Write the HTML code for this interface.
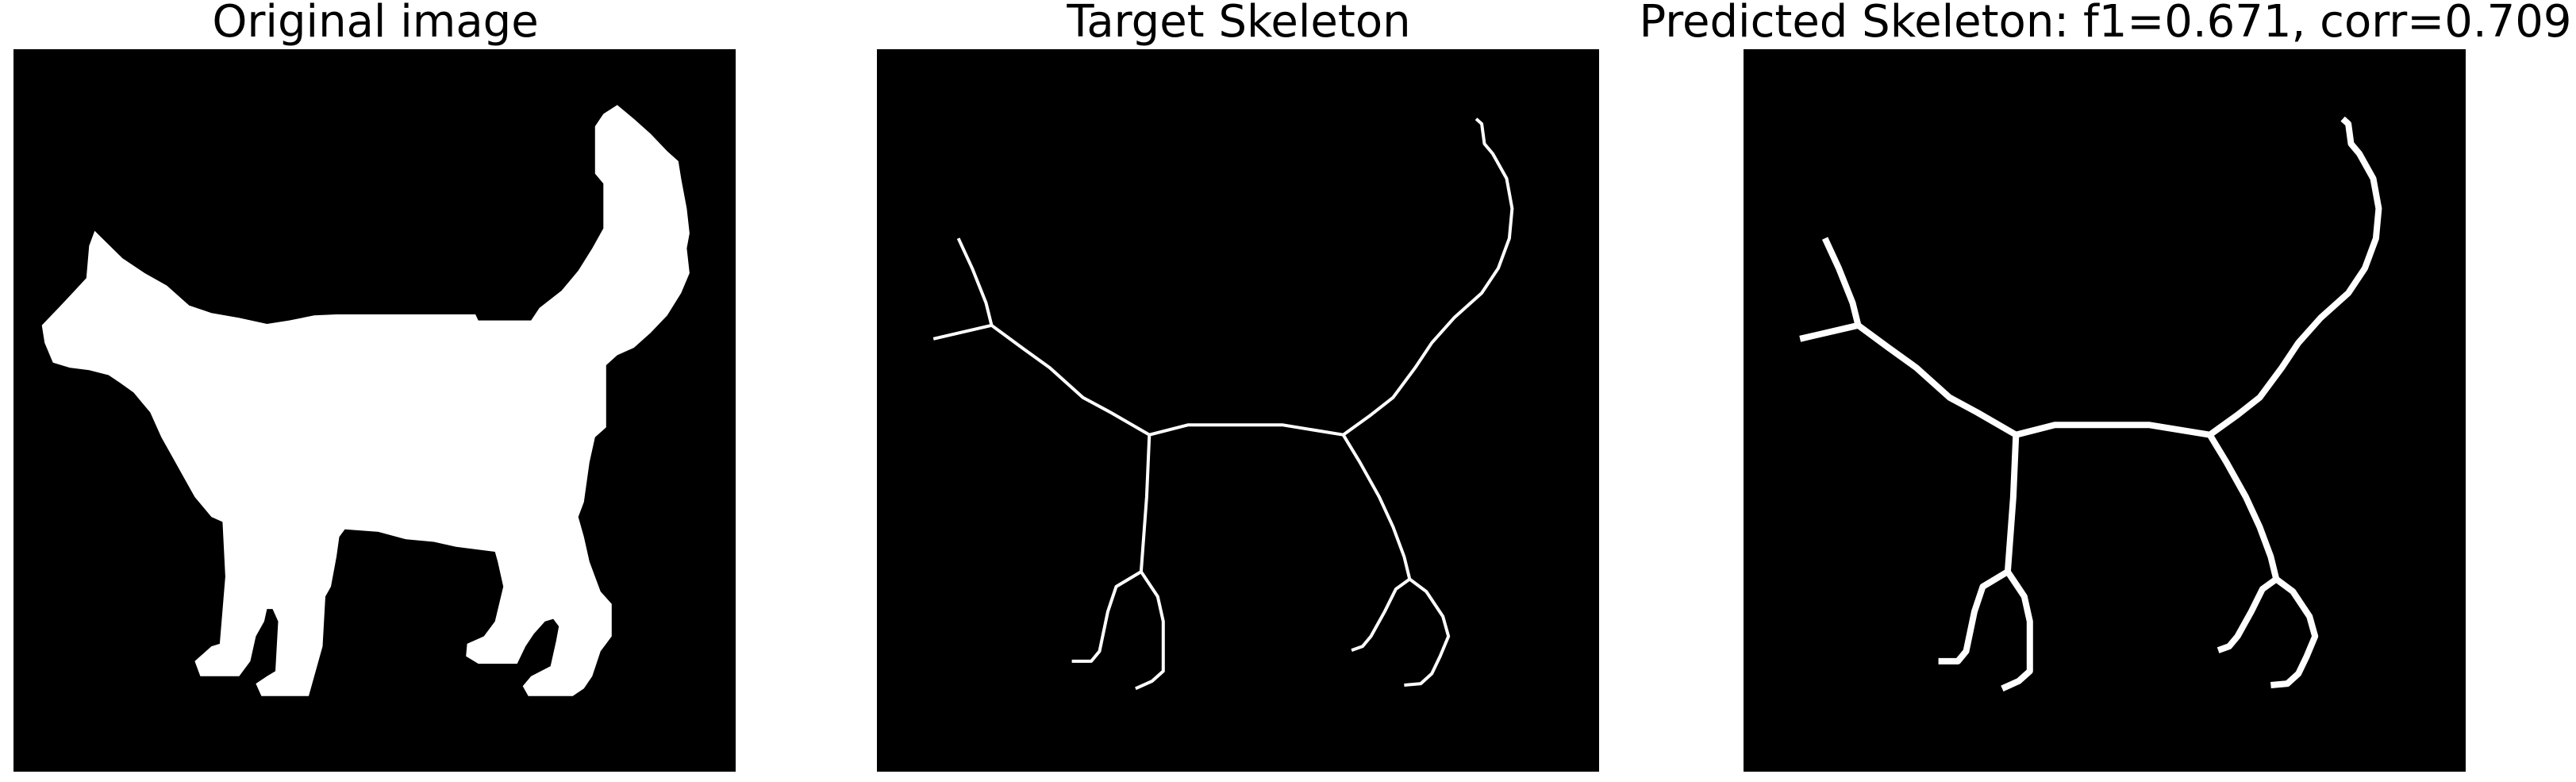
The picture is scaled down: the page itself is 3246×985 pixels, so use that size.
<!DOCTYPE html>
<html><head><meta charset="utf-8"><style>
html,body{margin:0;padding:0;background:#fff;}
#wrap{position:relative;width:3246px;height:985px;overflow:hidden;background:#fff;font-family:"DejaVu Sans","Liberation Sans",sans-serif;}
.title{position:absolute;top:0px;width:1200px;text-align:center;font-size:56px;line-height:56px;color:#000;white-space:nowrap;z-index:2;}
svg{position:absolute;top:0;left:0;}
</style></head><body>
<div id="wrap">
<div class="title" style="left:-127px">Original image</div>
<div class="title" style="left:961px">Target Skeleton</div>
<div class="title" style="left:2053px">Predicted Skeleton: f1=0.671, corr=0.709</div>
<svg id="fig" width="3246" height="985"></svg>
</div>
<script>
// grid coordinates (128x128 image)
const catOutlineZ = [[160,465],[210,520],[250,550],[290,575],[330,615],[370,630],[420,640],[470,652],[510,645],[555,635],[595,633],[845,633],[850,645],[945,645],[960,620],[1000,585],[1030,545],[1055,500],[1075,460],[1075,370],[1060,350],[1060,255],[1075,230],[1100,212],[1130,240],[1160,270],[1190,305],[1210,325],[1215,360],[1225,420],[1230,470],[1225,500],[1230,550],[1215,590],[1190,635],[1160,670],[1130,700],[1100,715],[1080,735],[1080,860],[1060,880],[1050,930],[1040,1010],[1030,1040],[1040,1080],[1050,1130],[1070,1190],[1090,1215],[1090,1280],[1070,1310],[1055,1360],[1040,1385],[1020,1400],[940,1400],[930,1380],[945,1360],[980,1340],[990,1290],[995,1260],[985,1245],[970,1250],[950,1275],[935,1300],[920,1335],[850,1335],[828,1320],[830,1295],[860,1280],[880,1250],[895,1180],[885,1130],[880,1110],[810,1100],[770,1090],[720,1085],[670,1070],[610,1065],[600,1080],[595,1120],[585,1180],[575,1200],[570,1300],[555,1360],[545,1400],[460,1400],[450,1375],[470,1360],[485,1350],[490,1250],[480,1225],[470,1225],[465,1250],[450,1280],[440,1330],[420,1360],[350,1360],[340,1330],[370,1300],[385,1295],[395,1160],[390,1050],[370,1040],[340,1000],[320,960],[300,920],[280,880],[260,830],[245,810],[230,790],[205,770],[185,755],[150,745],[115,740],[85,730],[70,690],[65,655],[95,620],[120,590],[145,560],[150,495]];
const skeletonZ = [
 [[215,480],[240,540],[265,610],[275,655]],
 [[170,682],[275,655]],
 [[275,655],[330,700],[380,740],[440,800],[490,830],[560,875]],
 [[560,875],[630,855],[800,855],[910,875]],
 [[910,875],[960,835],[1000,800],[1040,740],[1070,690],[1110,640],[1160,590],[1190,540],[1210,480],[1215,420],[1205,360],[1180,310],[1165,290],[1160,250],[1150,240]],
 [[560,875],[555,1000],[545,1150]],
 [[545,1150],[500,1180],[485,1230],[470,1310],[455,1330],[420,1330]],
 [[545,1150],[575,1200],[585,1250],[585,1350],[565,1370],[535,1385]],
 [[910,875],[940,930],[975,1000],[1000,1060],[1020,1120],[1030,1165]],
 [[1030,1165],[1005,1185],[985,1230],[960,1280],[945,1300],[925,1308]],
 [[1030,1165],[1060,1190],[1090,1240],[1100,1280],[1085,1320],[1070,1355],[1050,1375],[1020,1378]]
];
const NS='http://www.w3.org/2000/svg';
const svg=document.getElementById('fig');
const panels=[{x:17,name:'original'},{x:1105,name:'target'},{x:2197,name:'predicted'}];
const PY=62, PS=910;
function catX(p,zx){return p.x+(zx-14)/1299*PS;}
function catY(zy){return PY+(zy-100)/1452*PS;}
function skX(p,zx){return p.x+(zx-68)/1304*PS;}
function skY(zy){return PY+(zy-100)/1452*PS;}
panels.forEach((p,i)=>{
  const r=document.createElementNS(NS,'rect');
  r.setAttribute('x',p.x);r.setAttribute('y',PY);r.setAttribute('width',PS);r.setAttribute('height',PS);r.setAttribute('fill','#000');
  
  
  svg.appendChild(r);
  if(i===0){
    const pg=document.createElementNS(NS,'polygon');
    pg.setAttribute('points',catOutlineZ.map(q=>catX(p,q[0]).toFixed(1)+','+catY(q[1]).toFixed(1)).join(' '));
    pg.setAttribute('fill','#fff');
    
    
    svg.appendChild(pg);
  } else {
    skeletonZ.forEach((seg,j)=>{
      const pl=document.createElementNS(NS,'polyline');
      pl.setAttribute('points',seg.map(q=>skX(p,q[0]).toFixed(1)+','+skY(q[1]).toFixed(1)).join(' '));
      pl.setAttribute('fill','none');pl.setAttribute('stroke','#fff');
      pl.setAttribute('stroke-width',i===1?4:8);
      pl.setAttribute('stroke-linejoin','round');
      
      
      svg.appendChild(pl);
    });
  }
});
</script>
</body></html>
